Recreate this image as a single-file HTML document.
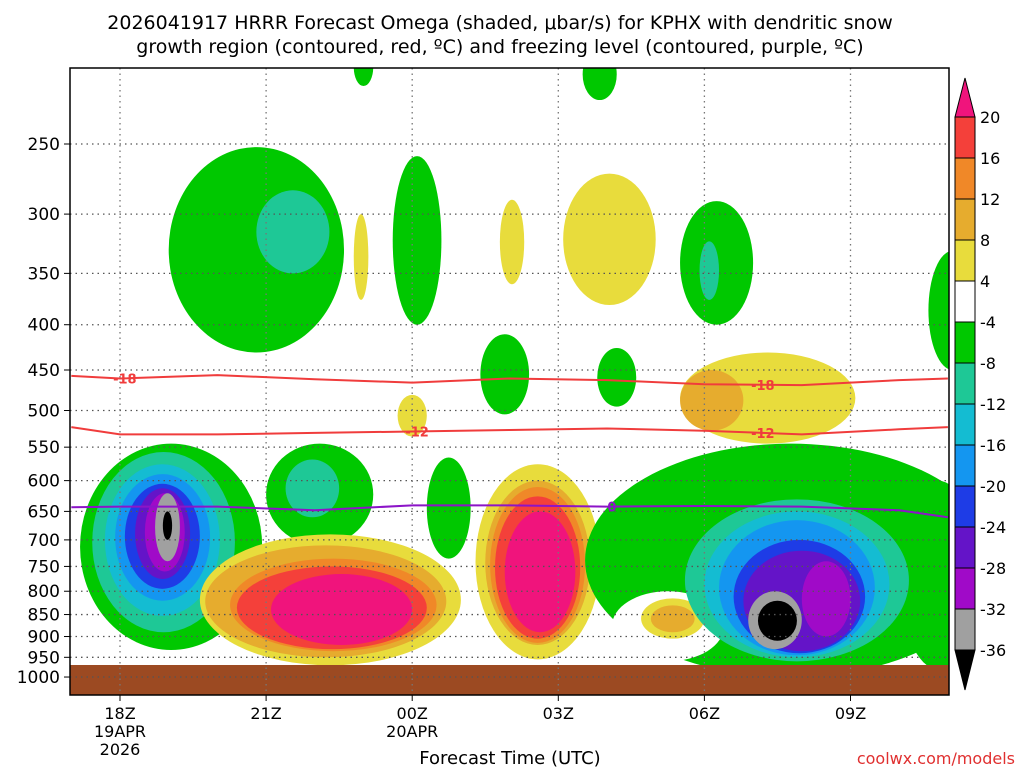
<!DOCTYPE html>
<html><head><meta charset="utf-8">
<style>
body{margin:0;background:#fff;}
svg{display:block;font-family:"DejaVu Sans","Liberation Sans",sans-serif;}
</style></head>
<body>
<svg id="chart" width="1024" height="768" viewBox="0 0 1024 768">
  <text x="500" y="29" text-anchor="middle" font-size="19">2026041917 HRRR Forecast Omega (shaded, μbar/s) for KPHX with dendritic snow</text>
  <text x="500" y="53" text-anchor="middle" font-size="19">growth region (contoured, red, ºC) and freezing level (contoured, purple, ºC)</text>
  <g id="plot"></g>
  <g id="cbar"></g>
  <text x="510" y="764" text-anchor="middle" font-size="18">Forecast Time (UTC)</text>
  <text x="1015" y="764" text-anchor="end" font-size="16" fill="#e03030">coolwx.com/models</text>
</svg>
<script>
// ---- data ----
const pressureTicks=[250,300,350,400,450,500,550,600,650,700,750,800,850,900,950,1000];
const timeTicks=[0,3,6,9,12,15];
const timeLabels=['18Z','21Z','00Z','03Z','06Z','09Z'];
const dateLabels={0:['19APR','2026'],6:['20APR']};
const levelLabels=['20','16','12','8','4','-4','-8','-12','-16','-20','-24','-28','-32','-36'];
const colors={y:'#e8dc3c',o2:'#e6ac2e',o:'#f08828',r:'#f4403a',m:'#f0147c',g:'#00c800',t:'#1ec896',c:'#14bcd2',lb:'#1496f0',b:'#1e3ce6',p:'#6414c8',v:'#a00ac8',gr:'#a0a0a0',k:'#000',w:'#fff'};
// blobs: [h0,h1,pTop,pBot,color]
const blobs=[
 [1.0,4.6,252,430,'g'],[2.8,4.3,282,350,'t'],
 [5.6,6.6,258,400,'g'],[4.8,5.1,300,375,'y'],[7.8,8.3,289,360,'y'],[9.1,11,270,380,'y'],
 [11.5,13,290,400,'g'],[11.9,12.3,322,375,'t'],
 [4.8,5.2,195,215,'g'],[9.5,10.2,195,223,'g'],[16.6,17.6,330,450,'g'],
 [7.4,8.4,410,505,'g'],[9.8,10.6,425,495,'g'],
 [11.5,15.1,430,545,'y'],[11.5,12.8,450,527,'o2'],[5.7,6.3,480,535,'y'],
 [-0.82,2.92,545,932,'g'],[-0.57,2.36,557,890,'t'],[-0.31,2.05,575,853,'c'],[-0.1,1.85,590,820,'lb'],[0.1,1.64,605,795,'b'],[0.31,1.44,612,775,'p'],[0.51,1.33,620,760,'v'],[0.72,1.23,620,740,'gr'],[0.88,1.07,650,700,'k'],
 [3,5.2,545,710,'g'],[3.4,4.5,568,660,'t'],[6.3,7.2,565,735,'g'],
 [1.64,7,690,970,'y'],[1.75,6.7,710,950,'o2'],[2.26,6.5,735,935,'o'],[2.4,6.3,750,930,'r'],[3.1,6.0,765,920,'m'],
 [7.3,9.86,575,955,'y'],[7.5,9.65,600,920,'o2'],[7.6,9.55,610,915,'o'],[7.7,9.45,625,905,'r'],[7.9,9.35,650,890,'m'],
 [9.55,18,545,1000,'g'],[16,17.6,600,980,'g'],[10.1,12.4,800,960,'w'],[10.7,12.0,815,905,'y'],[10.9,11.8,830,890,'o2'],
 [11.6,16.2,630,960,'t'],[12.0,15.8,650,950,'c'],[12.3,15.5,665,945,'lb'],[12.6,15.3,700,940,'b'],[12.8,15.2,720,935,'p'],[14.0,15.0,740,900,'v'],[12.9,14.0,800,930,'gr'],[13.1,13.9,820,910,'k']
];
const lineHours=[-1,0,2,4,6,8,10,12,14,16,17];
const iso18=[457,460,456,461,465,460,462,467,468,462,460];
const iso12=[522,532,532,530,528,526,524,527,532,525,522];
const frz=[643,642,642,648,640,640,642,641,642,648,660];
// ---- axes ----
const X0=70,X1=949,Y0=68,Y1=695;
const xS=h=>120+48.7*h;
const yS=p=>144+384.5*Math.log(p/250);
const NS='http://www.w3.org/2000/svg';
function mk(tag,attrs,parent){const e=document.createElementNS(NS,tag);for(const k in attrs)e.setAttribute(k,attrs[k]);parent.appendChild(e);return e;}
const plot=document.getElementById('plot');
const cp=mk('clipPath',{id:'clip'},plot);mk('rect',{x:X0,y:Y0,width:X1-X0,height:Y1-Y0},cp);
const g=mk('g',{'clip-path':'url(#clip)'},plot);
blobs.forEach(b=>{
 const x0=xS(b[0]),x1=xS(b[1]),y0=yS(b[2]),y1=yS(b[3]);
 const e=mk('ellipse',{cx:(x0+x1)/2,cy:(y0+y1)/2,rx:(x1-x0)/2,ry:(y1-y0)/2,fill:colors[b[4]]},g);
 
 
});
const ground=mk('rect',{x:X0,y:665,width:X1-X0,height:Y1-665,fill:'#9c4a22'},g);


pressureTicks.forEach(p=>{
 const l=mk('line',{x1:X0,x2:X1,y1:yS(p),y2:yS(p),stroke:'#555','stroke-dasharray':'1.5,4','stroke-width':1.3},g);
 
 
 const t=mk('text',{x:60,y:yS(p)+6,'text-anchor':'end','font-size':17},plot);t.textContent=p;
 
 
 mk('line',{x1:X0-6,x2:X0,y1:yS(p),y2:yS(p),stroke:'#000'},plot);
});
timeTicks.forEach((h,i)=>{
 const l=mk('line',{x1:xS(h),x2:xS(h),y1:Y0,y2:Y1,stroke:'#777','stroke-dasharray':'1.5,4','stroke-width':1.3},g);
 
 
 mk('line',{x1:xS(h),x2:xS(h),y1:Y1,y2:Y1+6,stroke:'#000'},plot);
 const t=mk('text',{x:xS(h),y:719,'text-anchor':'middle','font-size':16},plot);t.textContent=timeLabels[i];
 
 
 (dateLabels[h]||[]).forEach((d,j)=>{const s=mk('text',{x:xS(h),y:737+18*j,'text-anchor':'middle','font-size':16},plot);s.textContent=d;
  
  });
});
function drawLine(vals,color,name,labels,lab){
 const d=vals.map((p,i)=>(i?'L':'M')+xS(lineHours[i]).toFixed(1)+','+yS(p).toFixed(1)).join('');
 const l=mk('path',{d:d,fill:'none',stroke:color,'stroke-width':2},g);
 
 
 labels.forEach(h=>{
  let i=0;while(i<lineHours.length-2&&lineHours[i+1]<h)i++;
  const f=(h-lineHours[i])/(lineHours[i+1]-lineHours[i]);const p=vals[i]+(vals[i+1]-vals[i])*f;
  const x=xS(h),y=yS(p);
  mk('rect',{x:x-13,y:y-7,width:26,height:14,fill:'#fff',opacity:0},g);
  const t=mk('text',{x:x,y:y+5,'text-anchor':'middle','font-size':13,'font-weight':'bold',fill:color},g);t.textContent=lab;
  
  
 });
}
drawLine(iso18,'#f03c3c','isotherm-minus18',[0.1,13.2],'-18');
drawLine(iso12,'#f03c3c','isotherm-minus12',[6.1,13.2],'-12');
drawLine(frz,'#8c14c8','freezing-level',[10.1],'0');
const border=mk('rect',{x:X0,y:Y0,width:X1-X0,height:Y1-Y0,fill:'none',stroke:'#000','stroke-width':1.5},plot);


// colorbar
const cb=document.getElementById('cbar');
const cbColors=['r','o','o2','y','w','g','t','c','lb','b','p','v','gr'];
const cbY=i=>117+i*41;
mk('path',{d:'M955,117 L965,78 L975,117 Z',fill:colors.m,stroke:'#000'},cb);
cbColors.forEach((c,i)=>{const r=mk('rect',{x:955,y:cbY(i),width:20,height:41,fill:colors[c],stroke:'#000'},cb);
 
 });
mk('path',{d:'M955,650 L965,690 L975,650 Z',fill:'#000',stroke:'#000'},cb);
levelLabels.forEach((s,i)=>{const t=mk('text',{x:980,y:cbY(i)+6,'font-size':16},cb);t.textContent=s;
 
 });
</script>
</body></html>
